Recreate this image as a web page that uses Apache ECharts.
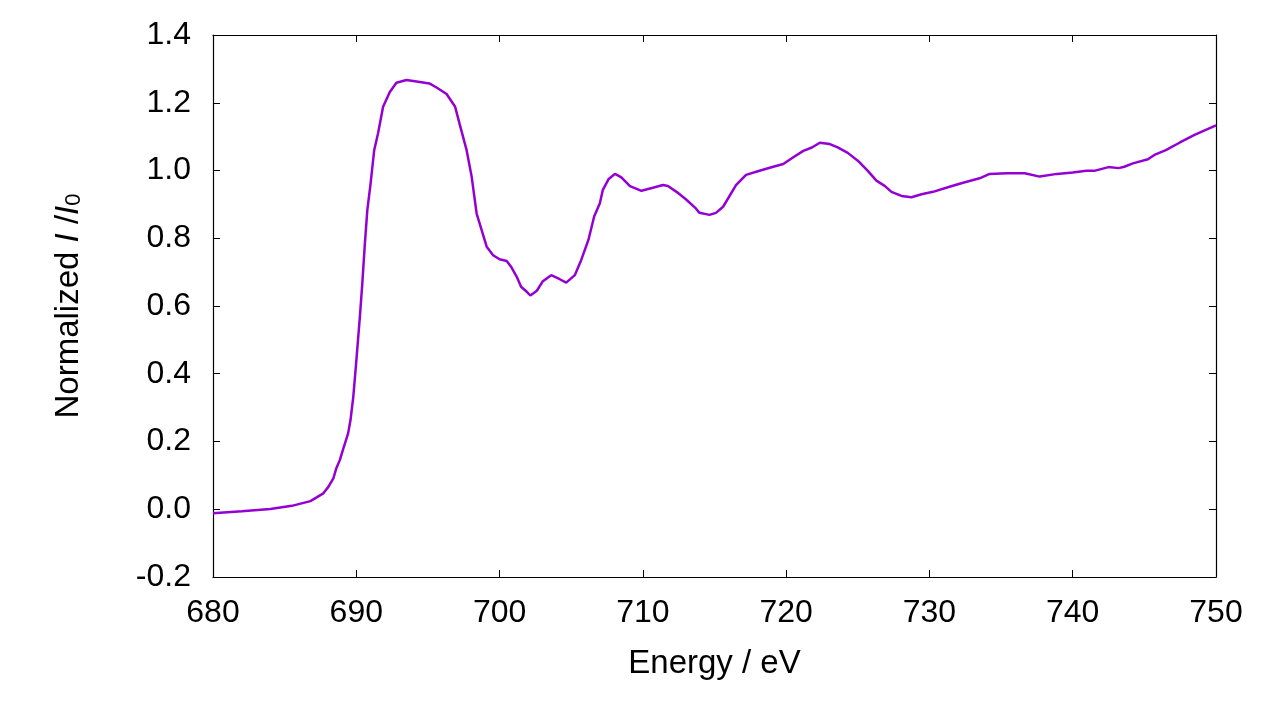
<!DOCTYPE html>
<html>
<head>
<meta charset="utf-8">
<script src="https://cdn.jsdelivr.net/npm/echarts@6/dist/echarts.min.js"></script>
<style>
  html, body { margin: 0; padding: 0; background: #fff; }
  #chart { width: 1280px; height: 720px; }
</style>
</head>
<body>
<div id="chart"></div>
<script>
// energy (eV) and normalized I/I0
const energy = [
  680, 682, 684, 685.5, 686.8, 687.7, 688.05, 688.4, 688.6, 688.85, 689.1,
  689.43, 689.6, 689.79, 689.97, 690.25, 690.42, 690.6, 690.77, 691.0, 691.25,
  691.52, 691.87, 692.34, 692.8, 693.5, 694.2, 695.1, 695.6, 696.3, 696.9,
  697.2, 697.7, 698.05, 698.4, 698.75, 699.1, 699.55, 700.0, 700.5, 700.8,
  701.2, 701.5, 701.9, 702.15, 702.6, 703.0, 703.6, 704.2, 704.65, 705.25,
  705.7, 706.2, 706.6, 707.0, 707.2, 707.6, 708.05, 708.5, 709.1, 709.9,
  710.7, 711.4, 711.75, 712.35, 713.0, 713.7, 713.95, 714.65, 715.1, 715.6,
  716.5, 717.2, 718.2, 719.1, 719.8, 720.5, 721.2, 721.8, 722.35, 723.05,
  723.6, 724.3, 725.0, 725.7, 726.3, 726.9, 727.35, 728.05, 728.75, 729.45,
  730.25, 731.4, 732.35, 733.5, 734.2, 735.4, 736.65, 737.7, 738.9, 740.0,
  740.95, 741.5, 742.5, 743.2, 743.6, 744.2, 745.25, 745.7, 746.5, 747.45,
  748.5, 750
];
const intensity = [
  -0.012, -0.006, 0.001, 0.01, 0.024, 0.047, 0.066, 0.091, 0.12, 0.145, 0.18,
  0.224, 0.264, 0.332, 0.421, 0.568, 0.667, 0.785, 0.883, 0.962, 1.06,
  1.11, 1.188, 1.232, 1.259, 1.267, 1.263, 1.257, 1.245, 1.226, 1.188,
  1.139, 1.06, 0.982, 0.873, 0.824, 0.775, 0.75, 0.738, 0.733, 0.716,
  0.686, 0.657, 0.642, 0.631, 0.645, 0.672, 0.691, 0.679, 0.669, 0.691,
  0.736, 0.795, 0.864, 0.903, 0.942, 0.974, 0.99, 0.98, 0.954, 0.94,
  0.949, 0.957, 0.954, 0.937, 0.915, 0.888, 0.875, 0.869, 0.875, 0.893,
  0.957, 0.987, 1.0, 1.011, 1.019, 1.039, 1.058, 1.068, 1.082, 1.078,
  1.068, 1.052, 1.029, 0.999, 0.97, 0.954, 0.937, 0.925, 0.921, 0.93,
  0.937, 0.952, 0.964, 0.977, 0.99, 0.992, 0.992, 0.982, 0.99, 0.994,
  0.999, 0.999, 1.01, 1.007, 1.011, 1.021, 1.033, 1.046, 1.06, 1.082,
  1.105, 1.133
];

const font = 'Liberation Sans, Arial, sans-serif';
const chart = echarts.init(document.getElementById('chart'));

const tickStyle = { show: true, inside: true, length: 7, lineStyle: { color: '#000', width: 1 } };
const lineStyle = { show: true, onZero: false, lineStyle: { color: '#000', width: 1.2 } };

chart.setOption({
  animation: false,
  grid: { left: 213, right: 64, top: 35, bottom: 143 },
  xAxis: [
    {
      type: 'value', min: 680, max: 750, interval: 10,
      name: 'Energy / eV', nameLocation: 'middle', nameGap: 70,
      nameTextStyle: { fontFamily: font, fontSize: 33, color: '#000', letterSpacing: 1 },
      axisLine: lineStyle, axisTick: tickStyle, splitLine: { show: false },
      axisLabel: { fontFamily: font, fontSize: 32, color: '#000', margin: 20 }
    },
    {
      type: 'value', position: 'top', min: 680, max: 750, interval: 10,
      axisLine: lineStyle, axisTick: tickStyle, splitLine: { show: false },
      axisLabel: { show: false }
    }
  ],
  yAxis: [
    {
      type: 'value', min: -0.2, max: 1.4, interval: 0.2,
      name: 'Normalized {it|I} /{it|I}{sub|0}', nameLocation: 'middle', nameGap: 128,
      nameTextStyle: {
        fontFamily: font, fontSize: 33, color: '#000',
        rich: {
          it: { fontFamily: font, fontSize: 33, fontStyle: 'italic', color: '#000' },
          sub: { fontFamily: font, fontSize: 22, color: '#000', verticalAlign: 'bottom', lineHeight: 22 }
        }
      },
      axisLine: lineStyle, axisTick: tickStyle, splitLine: { show: false },
      axisLabel: {
        fontFamily: font, fontSize: 32, color: '#000', margin: 22,
        formatter: v => v.toFixed(1)
      }
    },
    {
      type: 'value', position: 'right', min: -0.2, max: 1.4, interval: 0.2,
      axisLine: lineStyle, axisTick: tickStyle, splitLine: { show: false },
      axisLabel: { show: false }
    }
  ],
  series: [{
    type: 'line',
    data: energy.map((e, i) => [e, intensity[i]]),
    showSymbol: false,
    smooth: false,
    lineStyle: { color: '#9400d3', width: 2.5 }
  }]
});
</script>
</body>
</html>
